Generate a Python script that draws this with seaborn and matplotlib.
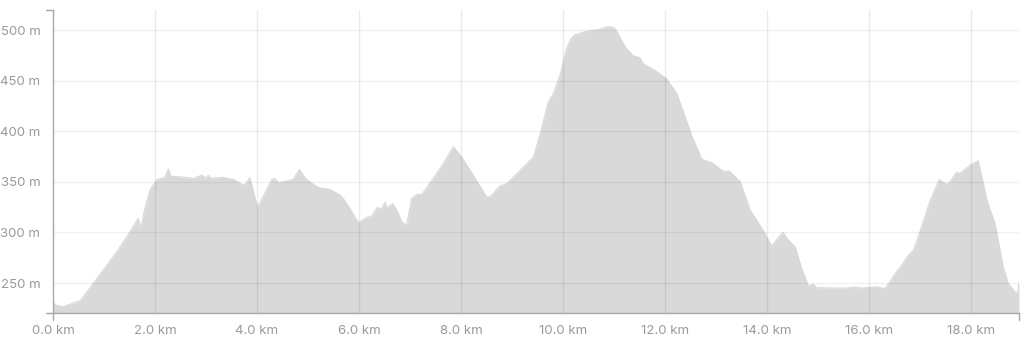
import matplotlib
matplotlib.use("Agg")
import matplotlib.pyplot as plt
from matplotlib.lines import Line2D
import seaborn as sns
import pandas as pd

distance_km = [0.00, 0.07, 0.20, 0.46, 0.53, 0.79, 1.25, 1.51, 1.67, 1.72, 1.80, 1.90,
               2.03, 2.20, 2.26, 2.31, 2.62, 2.75, 2.92, 2.98, 3.05, 3.09, 3.34, 3.54,
               3.67, 3.76, 3.86, 4.01, 4.29, 4.35, 4.42, 4.71, 4.83, 4.97, 5.20, 5.43,
               5.63, 5.69, 5.82, 5.99, 6.15, 6.25, 6.35, 6.44, 6.51, 6.55, 6.66, 6.74,
               6.84, 6.93, 6.97, 7.03, 7.13, 7.23, 7.59, 7.85, 8.01, 8.24, 8.50, 8.57,
               8.76, 8.90, 9.16, 9.42, 9.58, 9.71, 9.81, 9.94, 10.07, 10.15, 10.24, 10.46,
               10.73, 10.86, 10.95, 11.02, 11.22, 11.38, 11.50, 11.57, 11.80, 12.03, 12.23,
               12.36, 12.52, 12.72, 12.92, 13.14, 13.26, 13.47, 13.67, 13.93, 14.09,
               14.18, 14.31, 14.42, 14.55, 14.68, 14.81, 14.90, 14.97, 15.56, 15.69,
               15.86, 16.15, 16.31, 16.48, 16.64, 16.77, 16.87, 17.00, 17.20, 17.38,
               17.51, 17.59, 17.71, 17.78, 17.98, 18.14, 18.32, 18.47, 18.63, 18.73,
               18.86, 18.91, 18.94]
elevation_m = [230.5, 228.0, 226.6, 231.5, 232.5, 249.7, 281.0, 300.7, 314.0, 304.0, 323.8, 341.9,
               351.8, 355.0, 363.0, 355.7, 354.4, 353.4, 356.7, 354.0, 356.4, 353.7, 354.4, 352.5,
               348.5, 346.8, 354.4, 324.8, 352.5, 353.4, 349.1, 352.5, 362.3, 352.5, 344.6, 342.6,
               336.9, 333.7, 323.8, 309.6, 314.9, 316.2, 324.4, 323.8, 330.3, 324.4, 328.7, 322.1,
               310.6, 307.3, 317.2, 333.7, 337.6, 337.6, 363.3, 384.7, 374.8, 356.7, 335.3, 335.3,
               346.0, 348.5, 361.4, 374.8, 402.8, 429.1, 437.4, 455.5, 481.9, 491.5, 495.7, 499.0,
               501.0, 503.3, 503.5, 501.6, 483.5, 474.6, 473.0, 467.0, 460.4, 452.2, 437.4,
               419.2, 396.2, 372.5, 368.9, 360.5, 360.8, 350.5, 322.1, 301.7, 286.6,
               292.5, 300.1, 292.5, 285.9, 264.5, 247.0, 249.0, 245.4, 245.0, 246.0,
               245.0, 246.3, 244.4, 256.9, 267.8, 277.7, 282.6, 301.0, 332.0, 352.5,
               347.5, 350.0, 359.4, 358.4, 366.6, 370.9, 330.3, 309.0, 266.0, 249.7,
               241.4, 239.8, 250.3]

x_ticks = [0, 2, 4, 6, 8, 10, 12, 14, 16, 18]
x_tick_labels = [f"{v:.1f} km" for v in x_ticks]
y_ticks = [250, 300, 350, 400, 450, 500]
y_tick_labels = [f"{v} m" for v in y_ticks]

df = pd.DataFrame({"distance": distance_km, "elevation": elevation_m})

sns.set_theme(style="white")
plt.rcParams["font.family"] = ["Inter", "DejaVu Sans"]

fig = plt.figure(figsize=(10.24, 3.41), dpi=100)
ax = fig.add_axes([53 / 1024, 1 - 313 / 341, (1019 - 53) / 1024, (313 - 10) / 341])

y_floor = 220.4
fill_color = "#d9d9d9"
ax.fill_between(df["distance"], y_floor, df["elevation"], color=fill_color, linewidth=0, zorder=1)
sns.lineplot(data=df, x="distance", y="elevation", ax=ax, color=fill_color, linewidth=0.8, zorder=2)

ax.set_xlim(0, 18.94)
ax.set_ylim(y_floor, 520)
ax.set_xticks(x_ticks)
ax.set_xticklabels(x_tick_labels)
ax.set_yticks(y_ticks)
ax.set_yticklabels(y_tick_labels)
ax.set_xlabel("")
ax.set_ylabel("")

for v in x_ticks[1:]:
    ax.axvline(v, color="black", alpha=0.08, linewidth=1, zorder=3)
for v in y_ticks:
    ax.axhline(v, color="black", alpha=0.06, linewidth=1, zorder=3)

label_color = "#9a9a9a"
ax.tick_params(axis="both", length=0, colors=label_color, labelsize=9.5)
ax.tick_params(axis="x", pad=9)
ax.tick_params(axis="y", pad=9)

axis_color = "#a8a8a8"
for side in ["top", "right"]:
    ax.spines[side].set_visible(False)
for side in ["left", "bottom"]:
    ax.spines[side].set_color(axis_color)
    ax.spines[side].set_linewidth(1)
    ax.spines[side].set_zorder(4)

# outer ticks at the ends of the axes (d3 style)
for x_disp in [53, 1019]:
    fig.add_artist(Line2D([x_disp / 1024, x_disp / 1024], [1 - 313 / 341, 1 - 320 / 341],
                          transform=fig.transFigure, color=axis_color, linewidth=1))
for yp in [10, 313]:
    fig.add_artist(Line2D([46 / 1024, 53 / 1024], [1 - yp / 341, 1 - yp / 341],
                          transform=fig.transFigure, color=axis_color, linewidth=1))

fig.savefig("out.png", dpi=100)
